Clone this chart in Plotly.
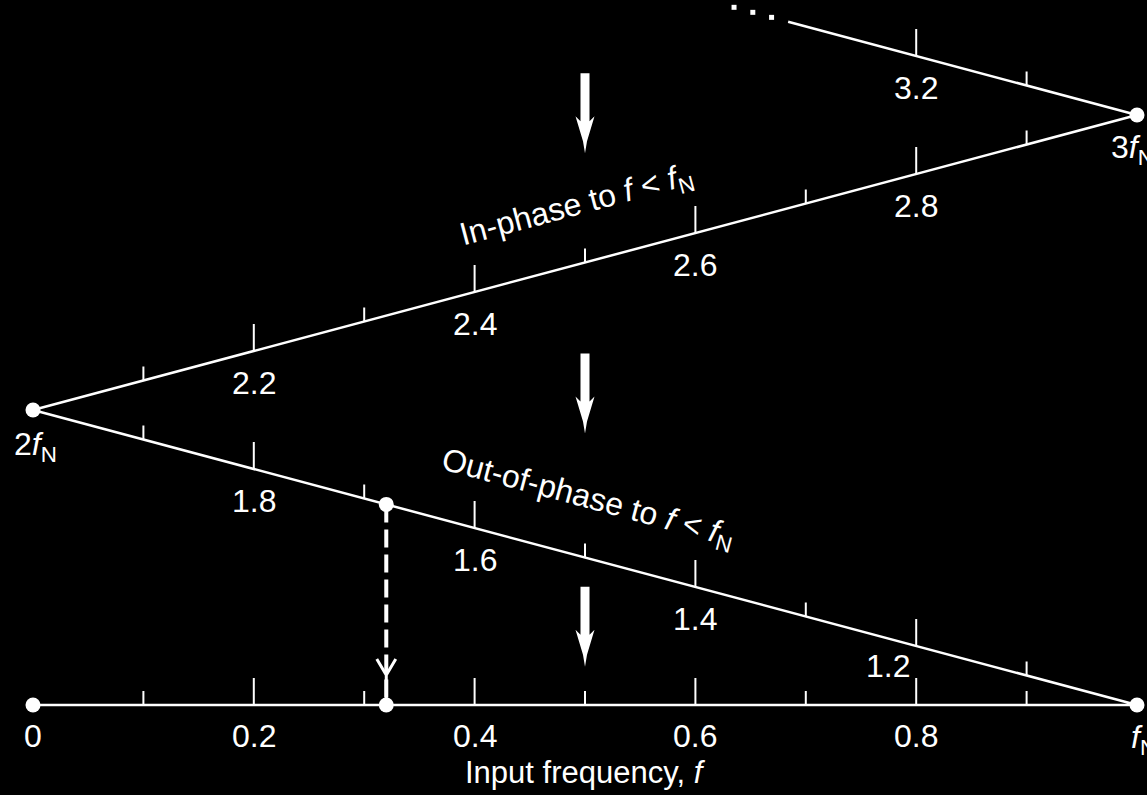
import plotly.graph_objects as go

# ---------------- data ----------------
fold_vertices_f = [0.0, 1.0, 2.0, 3.0, 3.316]          # folded frequency scale (units of fN)
major_tick_f = [0.2, 0.4, 0.6, 0.8, 1.2, 1.4, 1.6, 1.8, 2.2, 2.4, 2.6, 2.8, 3.2]
minor_tick_f = [0.1, 0.3, 0.5, 0.7, 0.9, 1.1, 1.3, 1.5, 1.7, 1.9, 2.1, 2.3, 2.5, 2.7, 2.9, 3.1]
base_label_f = [0.0, 0.2, 0.4, 0.6, 0.8]
base_labels = ["0", "0.2", "0.4", "0.6", "0.8"]
line_label_f = [1.2, 1.4, 1.6, 1.8, 2.2, 2.4, 2.6, 2.8, 3.2]
line_labels = ["1.2", "1.4", "1.6", "1.8", "2.2", "2.4", "2.6", "2.8", "3.2"]
node_f = [0.0, 1.0, 2.0, 3.0]
node_labels = {1.0: "<i>f</i><sub>N</sub>", 2.0: "2<i>f</i><sub>N</sub>", 3.0: "3<i>f</i><sub>N</sub>"}
alias_input_f = 1.68
ellipsis_f = [3.365, 3.348, 3.331]
flow_arrow_f = 0.5
flow_arrow_tip_levels = [1.87, 0.92, 0.13]
x_title = "Input frequency, <i>f</i>"
in_phase_text = "In-phase to <i>f</i> &lt; <i>f</i><sub>N</sub>"
out_phase_text = "Out-of-phase to <i>f</i> &lt; <i>f</i><sub>N</sub>"


def fold(f):
    m = f % 2.0
    x = m if m <= 1.0 else 2.0 - m
    level = max(f - 1.0, 0.0)
    return x, level


W, H = 1147, 795
X0_PX, X_UNIT = 33.0, 1104.0
Y0_PX, Y_UNIT = 705.0, 295.0
xr = [-X0_PX / X_UNIT, (W - X0_PX) / X_UNIT]
yr = [(Y0_PX - H) / Y_UNIT, Y0_PX / Y_UNIT]

FONT = "Liberation Sans, Arial, sans-serif"
WHITE = "white"

fig = go.Figure()

# folded zig-zag scale
vx, vy = zip(*[fold(f) for f in fold_vertices_f])
fig.add_trace(go.Scatter(x=list(vx), y=list(vy), mode="lines",
                         line=dict(color=WHITE, width=2.5), hoverinfo="skip"))

# alias projection (dashed)
ax_, ay_ = fold(alias_input_f)
bx_, by_ = fold(2.0 - alias_input_f)
fig.add_trace(go.Scatter(x=[ax_, bx_], y=[ay_, by_], mode="lines",
                         line=dict(color=WHITE, width=4, dash="18px,7px"), hoverinfo="skip"))

# node dots
nd = [fold(f) for f in node_f] + [fold(alias_input_f), fold(2.0 - alias_input_f)]
fig.add_trace(go.Scatter(x=[p[0] for p in nd], y=[p[1] for p in nd], mode="markers",
                         marker=dict(color=WHITE, size=15, line=dict(width=0)), hoverinfo="skip"))

# ellipsis dots
ed = [fold(f) for f in ellipsis_f]
fig.add_trace(go.Scatter(x=[p[0] for p in ed], y=[p[1] for p in ed], mode="markers",
                         marker=dict(color=WHITE, size=5, symbol="square", line=dict(width=0)),
                         hoverinfo="skip"))

shapes = []
# tick marks (pointing upward from the scale line)
for flist, length in ((major_tick_f, 27), (minor_tick_f, 14)):
    for f in flist:
        x, lv = fold(f)
        shapes.append(dict(type="line", xref="x", yref="y", x0=x, x1=x,
                           ysizemode="pixel", yanchor=lv, y0=0, y1=length,
                           line=dict(color=WHITE, width=2)))

# bold downward flow arrows
arrow_path = ("M 0,0 L 2,12 L 9.5,37 L 4.5,32 L 4.5,80 L -4.5,80 "
              "L -4.5,32 L -9.5,37 L -2,12 Z")
for lv in flow_arrow_tip_levels:
    shapes.append(dict(type="path", xref="x", yref="y", xsizemode="pixel", ysizemode="pixel",
                       xanchor=flow_arrow_f, yanchor=lv, path=arrow_path,
                       fillcolor=WHITE, line=dict(width=0)))

# open arrow head at end of dashed projection
shapes.append(dict(type="path", xref="x", yref="y", xsizemode="pixel", ysizemode="pixel",
                   xanchor=bx_, yanchor=by_, path="M -9.5,46 L 0,30 L 9.5,46 M 0,30 L 0,0",
                   fillcolor="rgba(0,0,0,0)", line=dict(color=WHITE, width=3)))

ann = []
for f, t in zip(base_label_f, base_labels):
    x, lv = fold(f)
    ann.append(dict(x=x, y=lv, text=t, yshift=-31, font=dict(size=32)))
for f, t in zip(line_label_f, line_labels):
    x, lv = fold(f)
    if t == "1.2":
        ann.append(dict(x=x, y=lv, text=t, xshift=-28, yshift=-20, font=dict(size=32)))
    else:
        ann.append(dict(x=x, y=lv, text=t, yshift=-32, font=dict(size=32)))
node_shift = {1.0: (6, -34), 2.0: (2, -36), 3.0: (-5, -34)}
for f, t in node_labels.items():
    x, lv = fold(f)
    dx, dy = node_shift[f]
    ann.append(dict(x=x, y=lv, text=t, xshift=dx, yshift=dy, font=dict(size=32)))

ann.append(dict(x=0.5, y=0, text=x_title, yshift=-67, font=dict(size=31)))
x, lv = fold(2.5)
ann.append(dict(x=x, y=lv, text=in_phase_text, xshift=-9, yshift=56, textangle=-15,
                font=dict(size=32)))
x, lv = fold(1.5)
ann.append(dict(x=x, y=lv, text=out_phase_text, xshift=3, yshift=58, textangle=15,
                font=dict(size=32)))

for a in ann:
    a.update(xref="x", yref="y", showarrow=False, xanchor="center", yanchor="middle")
    a["font"].update(color=WHITE, family=FONT)

fig.update_layout(
    width=W, height=H, margin=dict(l=0, r=0, t=0, b=0),
    paper_bgcolor="black", plot_bgcolor="black",
    showlegend=False, shapes=shapes, annotations=ann,
    xaxis=dict(range=xr, visible=False, fixedrange=True),
    yaxis=dict(range=yr, visible=False, fixedrange=True),
)

fig.write_html(
    "out.html",
    config={"displayModeBar": False},
    post_script="document.body.style.margin='0px';document.body.style.padding='0px';"
                "document.body.style.background='black';document.body.style.overflow='hidden';",
)
